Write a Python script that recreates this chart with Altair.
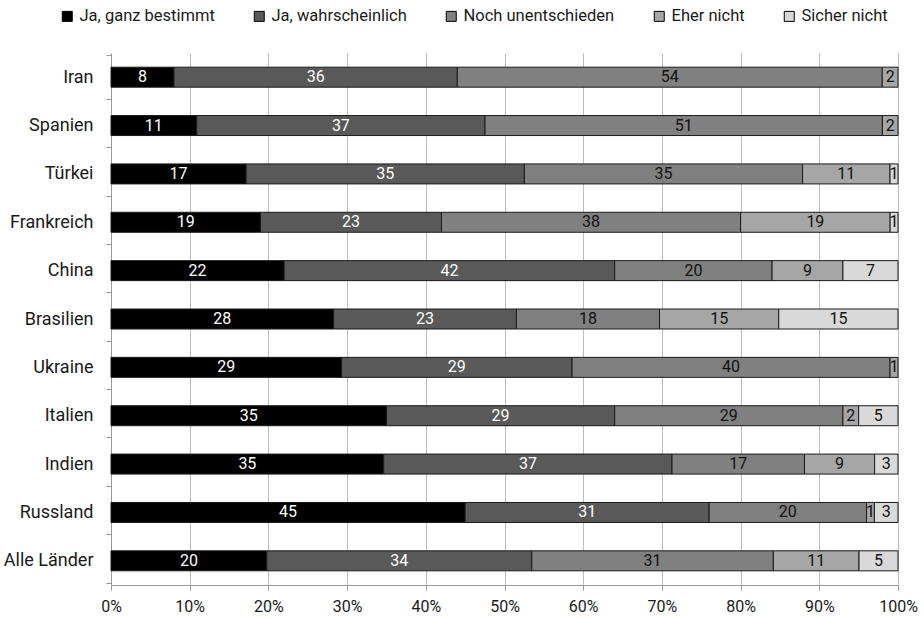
import altair as alt
import pandas as pd

countries = ["Iran", "Spanien", "Türkei", "Frankreich", "China", "Brasilien",
             "Ukraine", "Italien", "Indien", "Russland", "Alle Länder"]
answers = ["Ja, ganz bestimmt", "Ja, wahrscheinlich", "Noch unentschieden",
           "Eher nicht", "Sicher nicht"]
colors = ["#000000", "#595959", "#808080", "#a6a6a6", "#d9d9d9"]

ja_bestimmt = [8, 11, 17, 19, 22, 28, 29, 35, 35, 45, 20]
ja_wahrsch = [36, 37, 35, 23, 42, 23, 29, 29, 37, 31, 34]
unentschieden = [54, 51, 35, 38, 20, 18, 40, 29, 17, 20, 31]
eher_nicht = [2, 2, 11, 19, 9, 15, 1, 2, 9, 1, 11]
sicher_nicht = [0, 0, 1, 1, 7, 15, 0, 5, 3, 3, 5]

series = [ja_bestimmt, ja_wahrsch, unentschieden, eher_nicht, sicher_nicht]

rows = []
for k, (ans, vals) in enumerate(zip(answers, series)):
    for c, v in zip(countries, vals):
        if v > 0:
            rows.append({"country": c, "answer": ans, "value": v, "order": k})
df = pd.DataFrame(rows)

font = "Roboto"

base = alt.Chart(df).transform_stack(
    stack="value", as_=["x0", "x1"], groupby=["country"],
    sort=[alt.SortField("order", order="ascending")], offset="normalize"
).transform_calculate(mid="(datum.x0 + datum.x1) / 2")

yenc = alt.Y("country:N", sort=countries, title=None,
             axis=alt.Axis(tickBand="extent", labelFontSize=18, labelColor="#1a1a1a",
                           labelFont=font, domainColor="#999", tickColor="#999",
                           tickSize=5, labelPadding=13, grid=False))

bars = base.mark_bar(size=20, stroke="#1a1a1a", strokeWidth=1).encode(
    x=alt.X("x0:Q", scale=alt.Scale(domain=[0, 1], nice=False),
            axis=alt.Axis(format=".0%", values=[i / 10 for i in range(11)],
                          labelFontSize=16, labelColor="#1a1a1a", labelFont=font,
                          labelFlush=False,
                          grid=True, gridColor="#bdbdbd", domainColor="#999",
                          tickColor="#999", tickSize=5, labelPadding=8),
            title=None),
    x2="x1:Q",
    y=yenc,
    color=alt.Color("answer:N", scale=alt.Scale(domain=answers, range=colors),
                    sort=answers,
                    legend=alt.Legend(title=None, orient="none", direction="horizontal",
                                      columns=5, legendX=-52, legendY=-45,
                                      symbolType="square", symbolSize=100,
                                      symbolStrokeColor="#000", symbolStrokeWidth=1,
                                      symbolOpacity=1, labelFontSize=16.5,
                                      labelFont=font, labelColor="#1a1a1a",
                                      labelOffset=4, columnPadding=36)),
)

labels = base.mark_text(fontSize=16, font=font).encode(
    x="mid:Q",
    y=alt.Y("country:N", sort=countries),
    text="value:Q",
    color=alt.condition("datum.order < 2", alt.value("#ffffff"), alt.value("#111111")),
)

chart = alt.layer(bars, labels).properties(
    width=787, height=532,
    autosize=alt.AutoSizeParams(type="none"),
    padding={"left": 111, "top": 53, "right": 26, "bottom": 33},
).configure_view(stroke=None)

chart.save("out.html", embed_options={"renderer": "svg", "actions": False})
